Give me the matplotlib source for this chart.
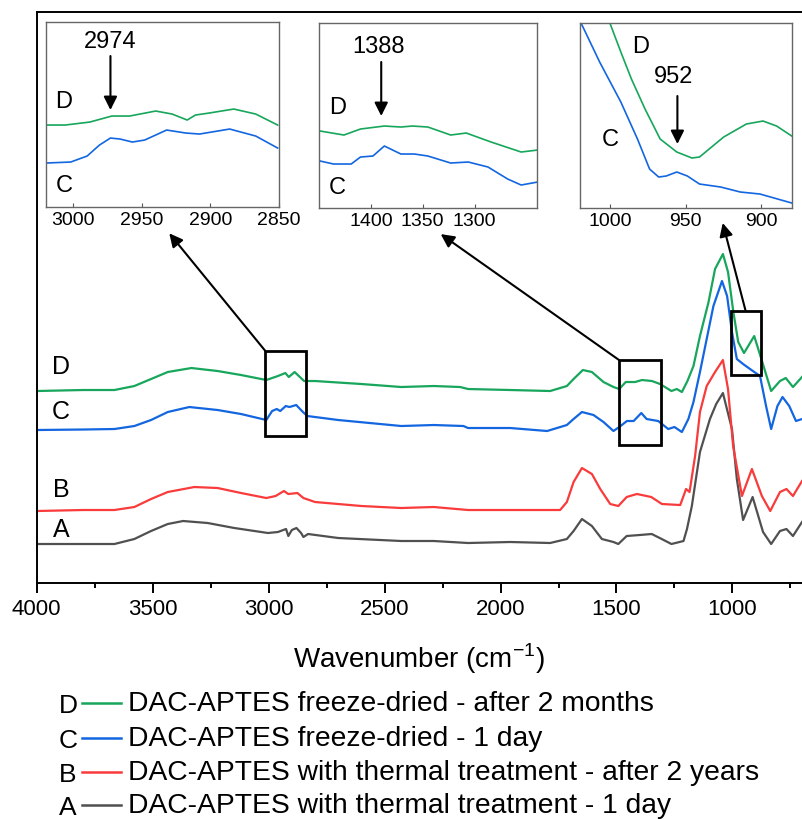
import matplotlib
matplotlib.use("Agg")
import matplotlib.pyplot as plt
from matplotlib.patches import Rectangle
from matplotlib.lines import Line2D
from matplotlib.ticker import MultipleLocator

plt.rcParams["font.family"] = ["Liberation Sans", "DejaVu Sans"]
plt.rcParams["mathtext.fontset"] = "custom"
plt.rcParams["mathtext.rm"] = "Liberation Sans"

# %% main spectra (offset, a.u.)
wn_a = [4000, 3800, 3665, 3579, 3507, 3435, 3369, 3263, 3148, 3003, 2960, 2925, 2915, 2900,
        2880, 2860, 2850, 2830, 2700, 2428, 2288, 2140, 1958, 1786, 1714, 1685, 1649, 1606,
        1563, 1513, 1492, 1456, 1400, 1348, 1305, 1263, 1211, 1196, 1175, 1140, 1097, 1070,
        1041, 1002, 981, 954, 913, 868, 833, 795, 767, 739, 700]
abs_a = [0.39, 0.39, 0.39, 0.44, 0.52, 0.59, 0.62, 0.60, 0.55, 0.50, 0.51, 0.54, 0.47, 0.53,
         0.55, 0.50, 0.46, 0.49, 0.45, 0.42, 0.42, 0.40, 0.41, 0.40, 0.44, 0.52, 0.64, 0.57,
         0.44, 0.41, 0.39, 0.47, 0.48, 0.49, 0.44, 0.39, 0.42, 0.54, 0.77, 1.31, 1.64, 1.79,
         1.90, 1.54, 1.04, 0.63, 0.86, 0.51, 0.39, 0.52, 0.54, 0.47, 0.61]

wn_b = [4000, 3800, 3665, 3579, 3507, 3435, 3320, 3220, 3119, 3010, 2970, 2934, 2915, 2876,
        2850, 2800, 2600, 2428, 2288, 2140, 1958, 1743, 1714, 1685, 1649, 1606, 1570, 1527,
        1492, 1456, 1412, 1350, 1304, 1225, 1200, 1185, 1161, 1140, 1111, 1075, 1041, 1019,
        997, 959, 916, 873, 837, 795, 767, 739, 700]
abs_b = [0.72, 0.73, 0.73, 0.76, 0.84, 0.91, 0.96, 0.95, 0.90, 0.85, 0.87, 0.92, 0.89, 0.90,
         0.85, 0.81, 0.77, 0.75, 0.76, 0.73, 0.73, 0.73, 0.81, 1.01, 1.15, 1.09, 0.94, 0.79,
         0.77, 0.86, 0.89, 0.86, 0.79, 0.78, 0.94, 0.91, 1.27, 1.71, 1.97, 2.11, 2.23, 1.94,
         1.37, 0.87, 1.14, 0.87, 0.72, 0.91, 0.94, 0.87, 1.02]

wn_c = [4000, 3800, 3665, 3579, 3507, 3435, 3342, 3220, 3119, 3010, 2985, 2965, 2950, 2926,
        2910, 2881, 2852, 2833, 2700, 2428, 2288, 2160, 2140, 1958, 1799, 1714, 1685, 1649,
        1599, 1556, 1513, 1488, 1455, 1426, 1393, 1370, 1320, 1277, 1250, 1218, 1190, 1168,
        1140, 1111, 1082, 1045, 1023, 1002, 981, 954, 924, 881, 855, 833, 806, 784, 755, 726,
        700]
abs_c = [1.53, 1.535, 1.54, 1.57, 1.63, 1.71, 1.76, 1.73, 1.69, 1.63, 1.72, 1.74, 1.72, 1.77,
         1.76, 1.78, 1.71, 1.67, 1.63, 1.57, 1.58, 1.57, 1.55, 1.55, 1.52, 1.58, 1.64, 1.71,
         1.68, 1.61, 1.52, 1.56, 1.62, 1.62, 1.70, 1.64, 1.62, 1.54, 1.56, 1.51, 1.64, 1.81,
         2.11, 2.44, 2.77, 3.02, 2.87, 2.51, 2.24, 2.19, 2.14, 2.07, 1.77, 1.54, 1.77, 1.86,
         1.77, 1.62, 1.64]

wn_d = [4000, 3800, 3665, 3579, 3507, 3435, 3333, 3220, 3119, 3010, 2960, 2928, 2913, 2888,
        2847, 2800, 2600, 2428, 2288, 2174, 2140, 1958, 1786, 1714, 1685, 1645, 1606, 1556,
        1513, 1488, 1460, 1420, 1390, 1347, 1312, 1263, 1240, 1218, 1194, 1168, 1140, 1103,
        1075, 1041, 1019, 996, 975, 950, 906, 866, 833, 795, 770, 739, 700]
abs_d = [1.92, 1.93, 1.93, 1.97, 2.04, 2.11, 2.15, 2.12, 2.08, 2.03, 2.07, 2.10, 2.06, 2.11,
         2.02, 2.02, 1.99, 1.96, 1.97, 1.96, 1.94, 1.93, 1.92, 1.97, 2.04, 2.13, 2.11, 2.01,
         1.96, 1.94, 2.01, 2.01, 2.03, 2.02, 1.99, 1.92, 1.94, 1.91, 2.02, 2.17, 2.47, 2.81,
         3.14, 3.29, 3.11, 2.71, 2.41, 2.30, 2.47, 2.17, 1.92, 2.02, 2.05, 1.96, 2.06]

# %% inset spectra (re-offset, a.u.)
ins1_wn_d = [3020, 3006, 2988, 2972, 2959, 2940, 2928, 2917, 2911, 2901, 2883, 2867, 2851]
ins1_d = [0.82, 0.82, 0.85, 0.91, 0.91, 0.96, 0.93, 0.87, 0.92, 0.94, 0.98, 0.93, 0.82]
ins1_wn_c = [3020, 3002, 2990, 2981, 2973, 2966, 2957, 2948, 2932, 2918, 2908, 2886, 2867, 2851]
ins1_c = [0.44, 0.45, 0.51, 0.62, 0.69, 0.68, 0.65, 0.67, 0.77, 0.74, 0.73, 0.78, 0.71, 0.59]

ins2_wn_d = [1449, 1426, 1410, 1387, 1371, 1360, 1345, 1323, 1308, 1284, 1255, 1239]
ins2_d = [0.77, 0.73, 0.79, 0.82, 0.81, 0.82, 0.81, 0.73, 0.75, 0.66, 0.56, 0.58]
ins2_wn_c = [1449, 1436, 1419, 1410, 1398, 1387, 1371, 1358, 1345, 1323, 1306, 1287, 1268,
             1255, 1239]
ins2_c = [0.47, 0.44, 0.44, 0.51, 0.52, 0.62, 0.54, 0.54, 0.52, 0.45, 0.46, 0.41, 0.29, 0.23,
          0.26]

ins3_wn_d = [1004, 1000, 993, 986, 977, 967, 956, 946, 941, 925, 910, 899, 890, 880]
ins3_d = [1.98, 1.84, 1.56, 1.29, 0.99, 0.69, 0.56, 0.50, 0.51, 0.71, 0.84, 0.87, 0.82, 0.72]
ins3_wn_c = [1022, 1019, 1007, 993, 982, 974, 968, 963, 956, 949, 941, 927, 914, 901, 880]
ins3_c = [1.96, 1.84, 1.46, 1.06, 0.69, 0.39, 0.31, 0.32, 0.36, 0.32, 0.24, 0.21, 0.16, 0.14,
          0.05]

labels = ["A", "B", "C", "D"]
names = ["DAC-APTES with thermal treatment - 1 day",
         "DAC-APTES with thermal treatment - after 2 years",
         "DAC-APTES freeze-dried - 1 day",
         "DAC-APTES freeze-dried - after 2 months"]
colors = ["#505050", "#f93b3b", "#1366e0", "#17a65b"]

# zoom boxes on main plot (wn range, abs range)
box_wn = [(2841, 3014), (1310, 1489), (875, 1007)]
box_abs = [(1.47, 2.32), (1.38, 2.23), (2.08, 2.72)]

# %%
fig = plt.figure(figsize=(8.02, 8.2), dpi=100)
ax = fig.add_axes([0.0458, 0.2878, 0.9542, 0.6963])

spectra = [(wn_a, abs_a), (wn_b, abs_b), (wn_c, abs_c), (wn_d, abs_d)]
for (w, a), c in zip(spectra, colors):
    ax.plot(w, a, color=c, lw=1.6)

ax.set_xlim(4000, 700)
ax.set_ylim(0, 5.71)
ax.set_yticks([])
ax.spines["right"].set_visible(False)
for s in ["left", "top", "bottom"]:
    ax.spines[s].set_linewidth(1.4)
ax.xaxis.set_major_locator(MultipleLocator(500))
ax.xaxis.set_minor_locator(MultipleLocator(250))
ax.tick_params(axis="x", which="major", length=7, width=1.4, labelsize=16, pad=4)
ax.tick_params(axis="x", which="minor", length=3.5, width=1.4)
ax.set_xlabel("Wavenumber (cm$^{-1}$)", fontsize=20, labelpad=15.5)

lab_y = [0.54, 0.94, 1.72, 2.17]
for l, y in zip(labels, lab_y):
    ax.text(3895, y, l, fontsize=18, ha="center", va="center")

for (w0, w1), (a0, a1) in zip(box_wn, box_abs):
    ax.add_patch(Rectangle((w0, a0), w1 - w0, a1 - a0, fill=False, lw=2, ec="k", zorder=5))

# %% insets
ins_pos = [[0.0574, 0.7463, 0.2905, 0.2256],
           [0.3978, 0.7451, 0.2714, 0.2256],
           [0.7232, 0.7451, 0.2640, 0.2256]]
ins_lim = [(3020, 2850), (1450, 1240), (1020, 880)]
ins_ticks = [[3000, 2950, 2900, 2850], [1400, 1350, 1300], [1000, 950, 900]]
ins_data = [(ins1_wn_c, ins1_c, ins1_wn_d, ins1_d),
            (ins2_wn_c, ins2_c, ins2_wn_d, ins2_d),
            (ins3_wn_c, ins3_c, ins3_wn_d, ins3_d)]
insets = []
for pos, lim, tk, (wc, c, wd, d) in zip(ins_pos, ins_lim, ins_ticks, ins_data):
    ia = fig.add_axes(pos)
    ia.plot(wc, c, color=colors[2], lw=1.2)
    ia.plot(wd, d, color=colors[3], lw=1.2)
    ia.set_xlim(*lim)
    ia.set_ylim(0, 1.85)
    ia.set_yticks([])
    ia.set_xticks(tk)
    ia.tick_params(axis="x", direction="in", length=3, width=0.8, labelsize=14, pad=3,
                   color="#555555")
    for s in ia.spines.values():
        s.set_color("#666666")
        s.set_linewidth(1.0)
    insets.append(ia)

arr = dict(arrowstyle="-|>", color="k", lw=1.5, mutation_scale=20, shrinkA=0, shrinkB=0)

i1, i2, i3 = insets
i1.text(3007, 1.06, "D", fontsize=17, ha="center", va="center")
i1.text(3007, 0.22, "C", fontsize=17, ha="center", va="center")
i1.text(2973, 1.66, "2974", fontsize=17, ha="center", va="center")
i1.annotate("", xy=(2973, 0.97), xytext=(2973, 1.51), arrowprops=arr)

i2.text(1432, 1.01, "D", fontsize=17, ha="center", va="center")
i2.text(1432, 0.21, "C", fontsize=17, ha="center", va="center")
i2.text(1393, 1.62, "1388", fontsize=17, ha="center", va="center")
i2.annotate("", xy=(1390, 0.92), xytext=(1390, 1.46), arrowprops=arr)

i3.text(980, 1.62, "D", fontsize=17, ha="center", va="center")
i3.text(1000, 0.69, "C", fontsize=17, ha="center", va="center")
i3.text(958, 1.32, "952", fontsize=17, ha="center", va="center")
i3.annotate("", xy=(955.6, 0.64), xytext=(955.6, 1.12), arrowprops=arr)

# arrows from zoom boxes to insets
ax.annotate("", xy=(0.529, -0.142), xycoords=i1.transAxes, xytext=(3014, 2.32),
            textcoords="data", arrowprops=arr)
ax.annotate("", xy=(0.559, -0.141), xycoords=i2.transAxes, xytext=(1489, 2.23),
            textcoords="data", arrowprops=arr)
ax.annotate("", xy=(0.674, -0.081), xycoords=i3.transAxes, xytext=(943, 2.72),
            textcoords="data", arrowprops=arr)

# %% legend
row_y = [806, 773, 739, 704]
W, H = 802.0, 820.0
for l, n, c, y in zip(labels, names, colors, row_y):
    fy = 1 - y / H
    fig.text(68 / W, fy - 2 / H, l, fontsize=19, ha="center", va="center")
    fig.add_artist(Line2D([82 / W, 121 / W], [fy, fy], color=c, lw=1.8))
    fig.text(128 / W, fy, n, fontsize=20.3, ha="left", va="center")

fig.savefig("out.png", dpi=100)
